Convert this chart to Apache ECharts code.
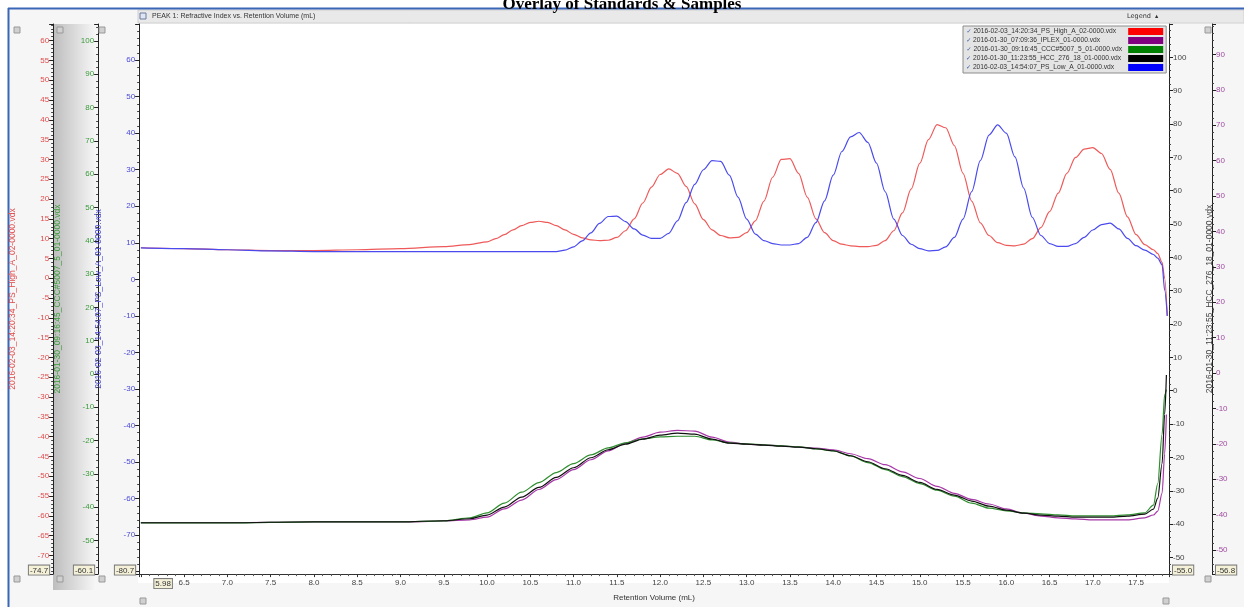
<!DOCTYPE html>
<html><head><meta charset="utf-8">
<script src="https://cdn.jsdelivr.net/npm/echarts@6/dist/echarts.min.js"></script>
<style>html,body{margin:0;padding:0;background:#fff}#c{width:1244px;height:607px}</style>
</head><body><div id="c"></div>
<script>
// ---------- data ----------
const seriesNames = [
  '2016-02-03_14:20:34_PS_High_A_02-0000.vdx',
  '2016-01-30_07:09:36_IPLEX_01-0000.vdx',
  '2016-01-30_09:16:45_CCC#5007_5_01-0000.vdx',
  '2016-01-30_11:23:55_HCC_276_18_01-0000.vdx',
  '2016-02-03_14:54:07_PS_Low_A_01-0000.vdx'
];
const xTitle = 'Retention Volume (mL)';
const headerText = 'PEAK 1: Refractive Index vs. Retention Volume (mL)';
const chartTitle = 'Overlay of Standards & Samples';

// standards (shared volume grid)
const standardVolume = [6.0,6.5,7.0,7.5,8.0,8.5,9.0,9.5,9.8,
  10.0,10.1,10.2,10.3,10.4,10.5,10.6,10.7,10.8,10.9,
  11.0,11.1,11.2,11.3,11.4,11.5,11.6,11.7,11.8,11.9,
  12.0,12.1,12.2,12.3,12.4,12.5,12.6,12.7,12.8,12.9,
  13.0,13.1,13.2,13.3,13.4,13.5,13.6,13.7,13.8,13.9,
  14.0,14.1,14.2,14.3,14.4,14.5,14.6,14.7,14.8,14.9,
  15.0,15.1,15.2,15.3,15.4,15.5,15.6,15.7,15.8,15.9,
  16.0,16.1,16.2,16.3,16.4,16.5,16.6,16.7,16.8,16.9,
  17.0,17.1,17.2,17.3,17.4,17.5,17.6,17.7,
  17.75,17.8,17.83,17.86];
// PS High (red axis)
const redSignal = [7.7,7.5,7.2,7.0,7.0,7.2,7.5,8.0,8.5,
  9.2,10.0,11.0,12.2,13.3,14.1,14.4,14.1,13.3,12.2,
  11.1,10.2,9.7,9.5,9.6,10.3,12.0,15.0,19.0,23.0,
  26.2,27.6,26.5,23.2,18.8,14.8,12.2,10.8,10.2,10.3,
  11.5,14.5,19.5,25.5,30.0,30.2,26.5,20.5,15.0,11.5,
  9.5,8.6,8.2,8.0,8.0,8.3,9.5,12.0,16.5,22.5,
  29.0,35.0,38.8,38.0,33.5,26.5,19.5,14.0,10.8,9.0,
  8.3,8.2,8.6,10.0,12.8,16.8,21.5,26.5,30.5,32.6,
  33.0,31.5,27.5,21.5,15.5,11.0,8.5,7.2,
  6.2,4.0,0.0,-9.5];
// PS Low (blue axis)
const blueSignal = [8.6,8.4,8.1,7.8,7.6,7.6,7.6,7.6,7.6,
  7.6,7.6,7.6,7.6,7.6,7.6,7.6,7.6,7.6,8.0,
  8.9,10.5,12.7,15.3,17.2,17.3,15.8,13.8,12.1,11.2,
  11.2,12.6,16.0,21.0,26.0,30.0,32.5,32.3,28.5,22.5,
  16.5,12.4,10.6,9.8,9.4,9.4,9.8,11.5,15.5,21.5,
  28.5,35.0,39.0,40.2,37.5,31.8,24.0,16.5,12.0,9.6,
  8.4,7.8,7.9,8.9,11.5,16.5,24.0,32.5,39.5,42.3,
  40.0,33.5,25.0,17.0,12.0,9.8,9.0,9.0,9.8,11.5,
  13.5,15.0,15.4,13.8,11.2,9.2,8.0,6.8,
  5.8,4.0,-3.0,-10.0];

// samples (shared volume grid)
const sampleVolume = [6.0,7.0,8.0,9.0,9.5,9.8,10.0,10.2,10.4,10.6,10.8,11.0,11.2,11.4,11.6,11.8,12.0,12.2,12.4,12.6,12.8,13.0,13.2,13.4,13.6,13.8,14.0,14.2,14.4,14.6,14.8,15.0,15.2,15.4,15.6,15.8,16.0,16.2,16.4,16.6,16.8,17.0,17.2,17.4,17.6,17.7,17.75,17.8,17.83,17.85];
const greenSignal = [-44.7,-44.7,-44.4,-44.4,-44.1,-43.2,-41.7,-38.8,-35.5,-32.6,-29.6,-26.9,-24.3,-22.2,-20.7,-19.5,-18.9,-18.7,-18.7,-19.8,-20.7,-21.0,-21.3,-21.6,-21.9,-22.5,-23.1,-24.6,-26.6,-28.7,-30.8,-32.9,-34.9,-36.7,-38.8,-40.3,-41.1,-41.7,-42.0,-42.3,-42.6,-42.6,-42.6,-42.3,-41.7,-39.4,-32.9,-18.1,-6.2,-4.7];
const blackSignal = [-39.6,-39.6,-39.3,-39.3,-39.0,-38.4,-37.3,-34.9,-31.9,-29.0,-26.0,-23.1,-20.1,-17.7,-16.0,-14.5,-13.3,-12.7,-13.0,-14.5,-15.7,-16.0,-16.3,-16.6,-16.9,-17.4,-18.0,-19.5,-21.3,-23.4,-25.4,-27.5,-29.6,-31.3,-33.1,-34.6,-35.8,-36.7,-37.3,-37.6,-37.9,-37.9,-37.9,-37.6,-37.0,-35.5,-32.2,-21.9,-7.1,4.7];
const purpleSignal = [-42.3,-42.3,-42.1,-42.1,-41.8,-41.5,-40.7,-38.4,-35.9,-32.9,-30.1,-27.3,-24.5,-22.0,-19.8,-18.1,-16.7,-16.2,-16.4,-18.1,-19.5,-20.1,-20.3,-20.6,-20.9,-21.2,-21.7,-22.8,-24.2,-25.9,-27.9,-29.8,-32.0,-34.0,-35.7,-37.0,-38.4,-39.6,-40.4,-40.9,-41.2,-41.5,-41.5,-41.5,-40.9,-40.1,-39.0,-34.0,-22.8,-11.7];

// axis ranges (as shown by the instrument software)
const xRange = [5.98, 17.88];
const redRange = [-74.7, 64.2];
const greenRange = [-60.1, 105.1];
const blueRange = [-80.7, 69.9];
const blackRange = [-55.0, 110.0];
const purpleRange = [-56.8, 98.6];

// ---------- chart ----------
const pair = (xs, ys) => xs.map((x, i) => [x, ys[i]]);
const boxStyle = {fontSize: 8, color: '#333', backgroundColor: '#f4f1d8', borderColor: '#7a7a7a', borderWidth: 1, padding: [1, 1, 0, 1], fontFamily: 'Liberation Sans'};

function yAxis(range, pos, offset, color, name, nameGap, split) {
  return {
    type: 'value', position: pos, offset: offset, min: range[0], max: range[1], splitNumber: split,
    name: name, nameLocation: 'middle', nameGap: nameGap,
    nameTextStyle: {color: color, fontSize: 8.5, fontFamily: 'Liberation Sans'},
    axisLine: {show: true, onZero: false, lineStyle: {color: '#222', width: 1}},
    axisTick: {show: true, length: 4, lineStyle: {color: '#222'}},
    minorTick: {show: true, splitNumber: 5, length: 2, lineStyle: {color: '#444'}},
    splitLine: {show: false},
    axisLabel: {
      color: color, fontSize: 8, margin: 4, fontFamily: 'Liberation Sans',
      showMinLabel: true, showMaxLabel: false,
      formatter: v => Math.abs(v - range[0]) < 1e-6 ? '{box|' + range[0].toFixed(1) + '}\n{sp| }' : String(Math.round(v)),
      rich: {box: boxStyle, sp: {fontSize: 1, height: 8}}
    }
  };
}

const lineColors = ['#ff0000', '#800080', '#008000', '#000000', '#0000ff'];
const drawColors = ['#ee5a5a', '#a838a8', '#2f8f2f', '#111111', '#4a4aee'];
const axisIdx = [0, 4, 1, 3, 2];
const dataSets = [
  pair(standardVolume, redSignal),
  pair(sampleVolume, purpleSignal),
  pair(sampleVolume, greenSignal),
  pair(sampleVolume, blackSignal),
  pair(standardVolume, blueSignal)
];

const series = seriesNames.map((n, i) => ({
  name: n, type: 'line', yAxisIndex: axisIdx[i], data: dataSets[i],
  showSymbol: false, smooth: 0.3, smoothMonotone: 'x',
  color: lineColors[i],
  lineStyle: {color: drawColors[i], width: 1.2},
  z: i === 3 ? 4 : 3
}));

// legend text padding so that the colour swatches line up on the right
const legendFontSize = 6.7;
const measureCtx = document.createElement('canvas').getContext('2d');
measureCtx.font = legendFontSize + 'px "Liberation Sans"';
const legendTextWidth = 150;
const legendFormatter = n => {
  const w = measureCtx.measureText(n).width;
  const pad = Math.max(1, Math.min(60, Math.round(legendTextWidth - w)));
  return '{ck|✓} ' + n + '{p' + pad + '|}';
};
const legendRich = {ck: {fontSize: 6, color: '#3056a8', fontFamily: 'DejaVu Sans'}};
for (let p = 1; p <= 60; p++) legendRich['p' + p] = {width: p};

const sq = (x, y) => ({type: 'rect', shape: {x: x, y: y, width: 6, height: 6}, style: {fill: '#d0d0d0', stroke: '#999', lineWidth: 1}, z: 5});

const chart = echarts.init(document.getElementById('c'));
chart.setOption({
  backgroundColor: '#f6f6f6',
  animation: false,
  title: {text: chartTitle, left: 'center', top: -4, padding: 0,
    textStyle: {fontFamily: 'Liberation Serif', fontWeight: 'bold', fontSize: 17, color: '#000'}},
  grid: {left: 138, right: 75, top: 24, bottom: 24},
  legend: {
    orient: 'vertical', left: 963, top: 26, align: 'right', icon: 'rect',
    itemWidth: 35, itemHeight: 7, itemGap: 2, padding: [2, 3, 2, 3],
    backgroundColor: '#e4e4e4', borderColor: '#8c8c8c', borderWidth: 1,
    data: seriesNames,
    formatter: legendFormatter,
    textStyle: {fontSize: legendFontSize, color: '#333', lineHeight: 7, fontFamily: 'Liberation Sans', rich: legendRich}
  },
  xAxis: {
    type: 'value', min: xRange[0], max: xRange[1], splitNumber: 24,
    name: xTitle, nameLocation: 'middle', nameGap: 14,
    nameTextStyle: {color: '#333', fontSize: 8, fontFamily: 'Liberation Sans'},
    axisLine: {onZero: false, lineStyle: {color: '#333'}},
    axisTick: {show: true, length: 3, lineStyle: {color: '#333'}},
    minorTick: {show: true, splitNumber: 5, length: 2, lineStyle: {color: '#555'}},
    splitLine: {show: false},
    axisLabel: {
      color: '#444', fontSize: 8, margin: 5, fontFamily: 'Liberation Sans',
      showMinLabel: true, showMaxLabel: false,
      formatter: v => Math.abs(v - xRange[0]) < 1e-6 ? '{sp|}{box|' + xRange[0].toFixed(2) + '}' : v.toFixed(1),
      rich: {sp: {width: 48}, box: boxStyle}
    }
  },
  yAxis: [
    yAxis(redRange, 'left', 86, '#e24a4a', seriesNames[0], 32, 28),
    yAxis(greenRange, 'left', 41, '#3c9a3c', seriesNames[2], 32, 16),
    yAxis(blueRange, 'left', 0, '#4a4ad6', seriesNames[4], 30, 15),
    yAxis(blackRange, 'right', 0, '#444444', seriesNames[3], 34, 16),
    yAxis(purpleRange, 'right', 43, '#a04ca0', '', 30, 15)
  ],
  graphic: [
    {type: 'rect', shape: {x: 0, y: 0, width: 1244, height: 9}, style: {fill: '#ffffff'}, z: -20},
    {type: 'rect', shape: {x: 0, y: 0, width: 8, height: 607}, style: {fill: '#ffffff'}, z: -20},
    {type: 'rect', shape: {x: 138, y: 24, width: 1031, height: 559}, style: {fill: '#ffffff'}, z: -20},
    {type: 'rect', shape: {x: 53, y: 24, width: 43, height: 566},
      style: {fill: new echarts.graphic.LinearGradient(0, 0, 1, 0, [{offset: 0, color: '#bdbdbd'}, {offset: 1, color: '#f7f7f7'}])}, z: -19},
    {type: 'rect', shape: {x: 138, y: 10, width: 1106, height: 13}, style: {fill: '#e9e9e9', stroke: '#d0d0d0', lineWidth: 1}, z: -18},
    {type: 'line', shape: {x1: 8, y1: 8.5, x2: 1244, y2: 8.5}, style: {stroke: '#3a66b8', lineWidth: 2}, z: -17},
    {type: 'line', shape: {x1: 8.5, y1: 8, x2: 8.5, y2: 607}, style: {stroke: '#3a66b8', lineWidth: 2}, z: -17},
    {type: 'rect', shape: {x: 140, y: 13, width: 6, height: 6}, style: {fill: '#dfe6f2', stroke: '#6a7aa0', lineWidth: 1}, z: 5},
    {type: 'text', x: 152, y: 16, style: {text: headerText, fontSize: 7, fill: '#333', fontFamily: 'Liberation Sans', verticalAlign: 'middle'}, z: 5},
    {type: 'text', x: 1127, y: 16, style: {text: 'Legend  ▴', fontSize: 6.5, fill: '#333', fontFamily: 'DejaVu Sans', verticalAlign: 'middle'}, z: 5},
    sq(14, 27), sq(57, 27), sq(99, 27), sq(1205, 27),
    sq(14, 576), sq(57, 576), sq(99, 576), sq(1205, 576),
    sq(140, 598), sq(1163, 598)
  ],
  series: series
});
</script>
</body></html>
